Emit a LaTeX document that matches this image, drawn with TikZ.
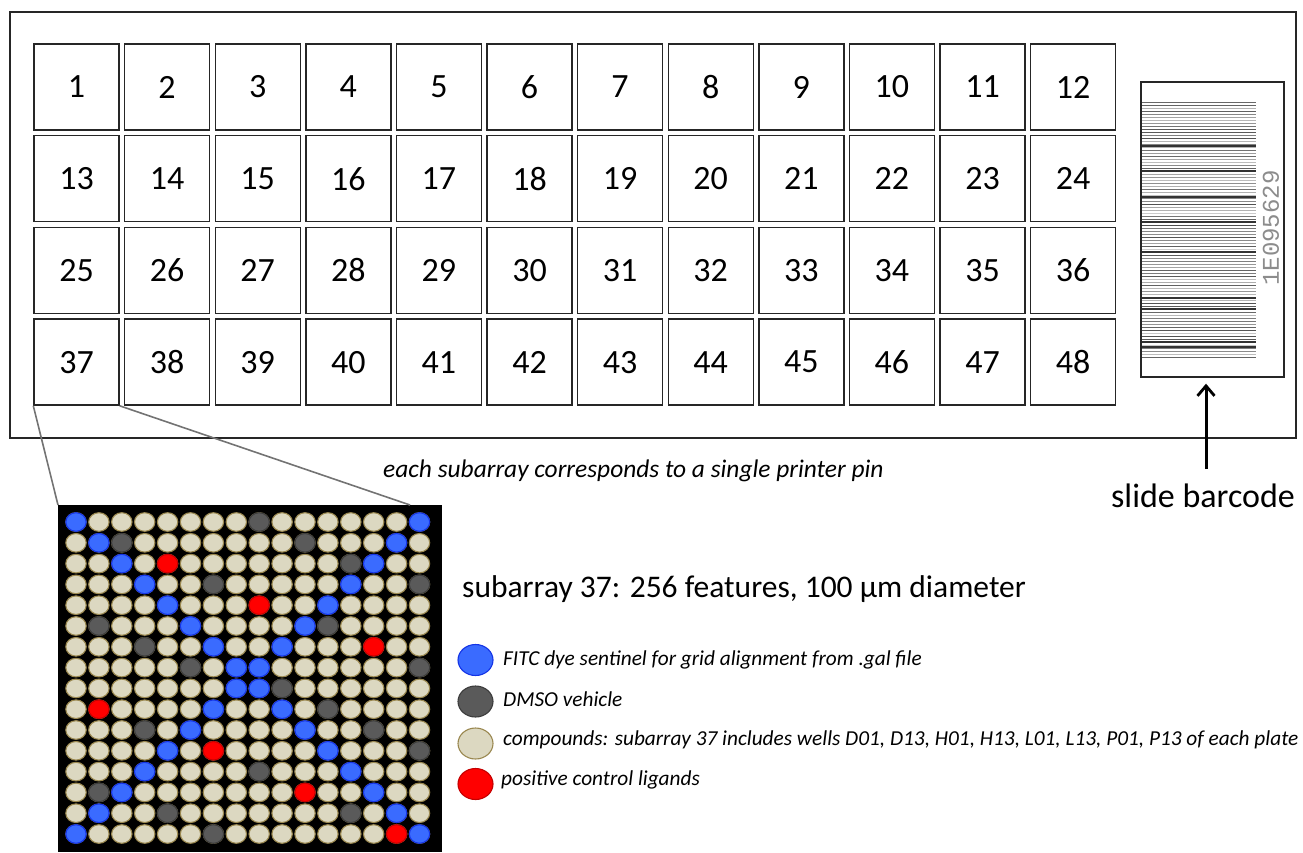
\documentclass[tikz,border=0pt]{standalone}
\usepackage{fontspec}
\setmainfont{Carlito}
\newfontfamily\codefont{Liberation Mono}
\usepackage{xcolor}
\usetikzlibrary{arrows.meta,positioning,calc}

\definecolor{fitcblue}{HTML}{3A6BFF}
\definecolor{fitcedge}{HTML}{1434E6}
\definecolor{dmsogray}{HTML}{5A5A5A}
\definecolor{dmsoedge}{HTML}{3C3C3C}
\definecolor{cmpdfill}{HTML}{DCD8C1}
\definecolor{cmpdedge}{HTML}{9A8850}
\definecolor{poscred}{HTML}{FF0000}
\definecolor{poscedge}{HTML}{C40000}

% one spot of the 16x16 subarray: style, column, row
\newcommand{\spotat}[3]{\draw[#1] ({76+22.9*(#2-1)},{522+20.8*(#3-1)}) ellipse (10.2 and 9.3);}

\begin{document}
\begin{tikzpicture}[x=1pt,y=-1pt,
  plate/.style={draw=black!85,line width=1.4pt,inner sep=0pt},
  sub/.style={draw=black!85,line width=1.4pt,minimum width=85pt,minimum height=86pt,inner sep=0pt,
    font=\fontsize{34}{40}\selectfont},
  zoomln/.style={draw=black!55,line width=1.6pt},
  arr/.style={-{Straight Barb[length=10pt,width=17pt,line width=2.8pt]},line width=3pt},
  cmpd/.style={fill=cmpdfill,draw=cmpdedge,line width=1.1pt},
  fitc/.style={fill=fitcblue,draw=fitcedge,line width=1.1pt},
  dmso/.style={fill=dmsogray,draw=dmsoedge,line width=1.1pt},
  posc/.style={fill=poscred,draw=poscedge,line width=1.1pt},
  legtxt/.style={anchor=base west,inner sep=0pt,font=\fontsize{21.3}{25}\selectfont\itshape}
]
\useasboundingbox (0,0) rectangle (1303,852);

% slide outline and the 48 subarrays
\node[plate,minimum width=1286pt,minimum height=426pt] (slide) at (653,225) {};
\foreach \r in {0,...,3}{
  \foreach \c in {0,...,11}{
    \pgfmathtruncatemacro\n{12*\r+\c+1}
    \node[sub] (s\n) at ({76.5+90.6*\c},{87+91.7*\r}) {\n};
  }
}

% barcode
\node[plate,minimum width=143pt,minimum height=295pt] (bc) at (1212.5,229.5) {};
\pgfmathsetseed{4}
\foreach \k in {0,...,85}{
  \pgfmathsetmacro\g{20+50*rnd}
  \draw[black!\g,line width=0.9pt] (1142,{102+3*\k}) -- (1256,{102+3*\k});
}
\foreach \yy in {146,171,197,222,252,298,309,342,347}{
  \draw[black!80,line width=1.4pt] (1142,\yy) -- (1256,\yy);
}
\node[rotate=90,text=black!45,font=\codefont\fontsize{24}{26}\selectfont] (bcnum) at (1271,228) {1E095629};

\node[anchor=base,inner sep=0pt,font=\fontsize{34}{38}\selectfont] (bclbl) at (1203,507) {slide barcode};
\coordinate (tip) at ([xshift=-6.5pt,yshift=-6pt]bc.south);
\coordinate (tail) at ([yshift=14pt]bclbl.north);
\draw[arr] (tail -| tip) -- (tip);

\node[anchor=base west,inner sep=0pt,font=\fontsize{25.4}{29}\selectfont\itshape] (pin) at (383,477)
  {each subarray corresponds to a single printer pin};

% zoomed subarray 37
\node[fill=black,inner sep=0pt,minimum width=384pt,minimum height=347pt,anchor=north west] (chip) at (58,505) {};
\coordinate (chipin) at (410,505);
\draw[zoomln] (s37.south west) -- (chip.north west);
\draw[zoomln] (s37.south east) -- (chipin);

\foreach \c in {1,...,16}{
  \foreach \r in {1,...,16}{
    \spotat{cmpd}{\c}{\r}
  }
}
\foreach \i in {1,...,16}{
  \spotat{fitc}{\i}{\i}
  \spotat{fitc}{17-\i}{\i}
}
\foreach \c/\r in {9/1,3/2,11/2,13/3,7/4,16/4,2/6,12/6,4/7,6/8,16/8,10/9,12/10,4/11,14/11,16/12,9/13,2/14,5/15,13/15,7/16}{
  \spotat{dmso}{\c}{\r}
}
\foreach \c/\r in {5/3,9/5,14/7,2/10,7/12,11/14,15/16}{
  \spotat{posc}{\c}{\r}
}

% legend
\node[anchor=base west,inner sep=0pt,font=\fontsize{31.5}{36}\selectfont] (title) at (462,597)
  {subarray 37: 256 features, 100 µm diameter};
\draw[fitc] (475.5,660) ellipse (17.5 and 15.5);
\draw[dmso] (475.5,701.5) ellipse (17.5 and 15.5);
\draw[cmpd] (475.5,743.5) ellipse (17.5 and 15.5);
\draw[posc] (475.5,784) ellipse (17.5 and 15.5);
\node[legtxt] (lfitc) at (503,665) {FITC dye sentinel for grid alignment from .gal file};
\node[legtxt] (ldmso) at (503,706) {DMSO vehicle};
\node[legtxt] (lcmpd) at (503,745) {compounds: subarray 37 includes wells D01, D13, H01, H13, L01, L13, P01, P13 of each plate};
\node[legtxt] (lposc) at (501,785) {positive control ligands};
\end{tikzpicture}
\end{document}
